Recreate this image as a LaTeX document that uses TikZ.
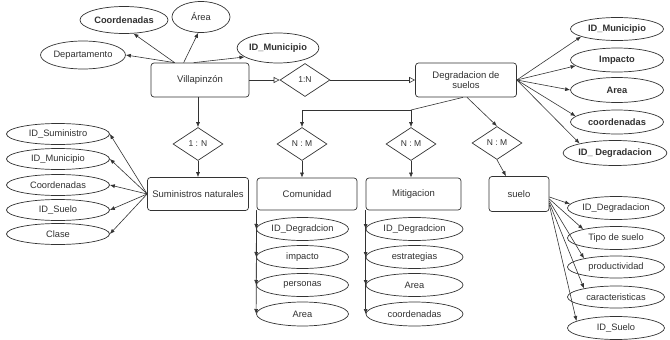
\documentclass[tikz,border=0pt]{standalone}
\usepackage{fontspec}
\setmainfont{Liberation Sans}
\usetikzlibrary{shapes.geometric,arrows.meta}
\definecolor{ln}{HTML}{333333}
\definecolor{tx}{HTML}{303030}
\tikzset{
  ent/.style={draw=ln, rounded corners=3pt, line width=0.7pt, inner sep=1pt, align=center, text=tx, font=\fontsize{9.5}{10.5}\selectfont},
  attr/.style={draw=ln, ellipse, line width=0.7pt, inner sep=0pt, text=tx, font=\fontsize{9.3}{10}\selectfont},
  battr/.style={attr, font=\bfseries\fontsize{9.3}{10}\selectfont},
  rel/.style={draw=ln, diamond, line width=0.7pt, inner sep=0pt, minimum width=50pt, minimum height=33pt, text=tx, font=\fontsize{8.5}{10}\selectfont},
  arr/.style={draw=ln, line width=0.6pt, -{Latex[length=5pt,width=4pt]}},
  oarr/.style={draw=ln, line width=0.6pt, -{Triangle[open,length=6pt,width=6pt]}},
}
\begin{document}
\begin{tikzpicture}[x=1pt,y=-1pt]
\useasboundingbox (0,0) rectangle (670,340);
% entities
\node[ent, minimum width=98pt, minimum height=34pt] (vil) at (200,80) {Villapinzón};
\node[ent, minimum width=101pt, minimum height=34pt] (deg) at (466,80) {Degradacion de\\suelos};
\node[ent, minimum width=101pt, minimum height=33pt] (sum) at (198,194) {Suministros naturales};
\node[ent, minimum width=100pt, minimum height=32pt] (com) at (307,194) {Comunidad};
\node[ent, minimum width=95pt, minimum height=32pt] (mit) at (413.5,194) {Mitigacion};
\node[ent, minimum width=60pt, minimum height=35pt] (sue) at (519,194) {suelo};
% relations
\node[rel] (r1) at (305,80) {1:N};
\node[rel] (r2) at (198,144) {1 : N};
\node[rel] (nm1) at (302,144) {N : M};
\node[rel] (nm2) at (411,144) {N : M};
\node[rel] (nm3) at (497,143) {N : M};
% Villapinzon attributes
\node[attr, minimum width=85pt, minimum height=28pt] (dep) at (83,55) {Departamento};
\node[battr, minimum width=88pt, minimum height=27pt] (coo) at (124,20) {Coordenadas};
\node[attr, minimum width=58pt, minimum height=31pt] (are) at (201,17) {Área};
\node[battr, minimum width=80pt, minimum height=30pt] (idm) at (278,48) {ID\_Municipio};
% Degradacion attributes
\node[battr, minimum width=93pt, minimum height=23pt] (d1) at (617,29) {ID\_Municipio};
\node[battr, minimum width=93pt, minimum height=24pt] (d2) at (617,60) {Impacto};
\node[battr, minimum width=93pt, minimum height=25pt] (d3) at (617,90) {Area};
\node[battr, minimum width=93pt, minimum height=24pt] (d4) at (617,122) {coordenadas};
\node[battr, minimum width=96pt, minimum height=25pt] (d5) at (615,153) {ID\_ Degradacion};
% Suministros attributes
\node[attr, minimum width=103pt, minimum height=21pt] (s1) at (58,134) {ID\_Suministro};
\node[attr, minimum width=103pt, minimum height=21pt] (s2) at (58,159) {ID\_Municipio};
\node[attr, minimum width=103pt, minimum height=21pt] (s3) at (58,185) {Coordenadas};
\node[attr, minimum width=103pt, minimum height=21pt] (s4) at (58,210) {ID\_Suelo};
\node[attr, minimum width=103pt, minimum height=21pt] (s5) at (58,234) {Clase};
% Comunidad attributes
\node[attr, minimum width=92pt, minimum height=23pt] (c1) at (302.5,229) {ID\_Degradcion};
\node[attr, minimum width=92pt, minimum height=23pt] (c2) at (302.5,257) {impacto};
\node[attr, minimum width=92pt, minimum height=23pt] (c3) at (302.5,285) {personas};
\node[attr, minimum width=92pt, minimum height=24pt] (c4) at (302.5,314) {Area};
% Mitigacion attributes
\node[attr, minimum width=97pt, minimum height=23pt] (m1) at (414.5,229) {ID\_Degradcion};
\node[attr, minimum width=97pt, minimum height=23pt] (m2) at (414.5,257) {estrategias};
\node[attr, minimum width=97pt, minimum height=23pt] (m3) at (414.5,285) {Area};
\node[attr, minimum width=97pt, minimum height=24pt] (m4) at (414.5,314) {coordenadas};
% suelo attributes
\node[attr, minimum width=97pt, minimum height=23pt] (u1) at (616,208) {ID\_Degradacion};
\node[attr, minimum width=97pt, minimum height=23pt] (u2) at (616,238) {Tipo de suelo};
\node[attr, minimum width=97pt, minimum height=22pt] (u3) at (616,267) {productividad};
\node[attr, minimum width=97pt, minimum height=22pt] (u4) at (616,297) {caracteristicas};
\node[attr, minimum width=97pt, minimum height=23pt] (u5) at (616,328) {ID\_Suelo};
% connectors: Villapinzon attributes
\draw[arr] ([xshift=24pt]vil.north west) -- (dep.east);
\draw[arr] ([xshift=24pt]vil.north west) -- (coo.-55);
\draw[arr] ([xshift=33pt]vil.north west) -- (are.-100);
\draw[arr] ([xshift=43pt]vil.north west) -- (idm.195);
% 1:N horizontal
\draw[oarr] (vil.east) -- (r1.west);
\draw[oarr] (r1.east) -- (deg.west);
% Degradacion attributes
\draw[arr] (deg.east) -- (d1.192);
\draw[arr] (deg.east) -- (d2.188);
\draw[arr] (deg.east) -- (d3.west);
\draw[arr] (deg.east) -- (d4.172);
\draw[arr] (deg.east) -- (d5.165);
% Villapinzon -> Suministros
\draw[arr] (r2.north |- vil.south) -- (r2.north);
\draw[arr] (r2.south) -- (sum.north);
\draw[arr] (sum.west) -- (s1.east);
\draw[arr] (sum.west) -- (s2.east);
\draw[arr] (sum.west) -- (s3.east);
\draw[arr] (sum.west) -- (s4.east);
\draw[arr] (sum.west) -- (s5.east);
% Degradacion -> N:M
\coordinate (j) at (411,110);
\draw[draw=ln, line width=0.6pt] ([xshift=-3pt]deg.south) -- (j);
\draw[arr] (j) -| (nm1.north);
\draw[arr] (j) -- (nm2.north);
\draw[arr] ([xshift=1pt]deg.south) -- (nm3.north);
\draw[arr] (nm1.south) -- (nm1.south |- com.north);
\draw[arr] (nm2.south) -- (nm2.south |- mit.north);
\draw[arr] (nm3.south) -- ([xshift=-13pt]sue.north);
% Comunidad attributes
\foreach \e in {c1,c2,c3,c4} \draw[arr] (com.south west) -- (\e.west);
\foreach \e in {m1,m2,m3,m4} \draw[arr] (mit.south west) -- (\e.west);
% suelo attributes
\draw[arr] ([yshift=-3pt]sue.east) -- (u1.175);
\draw[arr] ([yshift=-5pt]sue.east) -- (u2.165);
\draw[arr] ([yshift=-7pt]sue.east) -- (u3.165);
\draw[arr] ([yshift=-9pt]sue.east) -- (u4.165);
\draw[arr] ([yshift=-11pt]sue.east) -- (u5.170);
\end{tikzpicture}
\end{document}
